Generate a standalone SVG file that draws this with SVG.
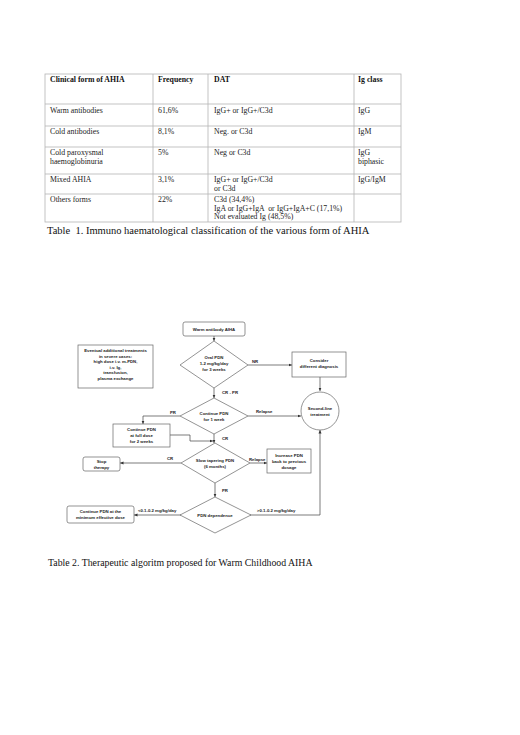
<svg xmlns="http://www.w3.org/2000/svg" width="520" height="735" viewBox="0 0 520 735">
<defs>
<marker id="ah" markerWidth="4" markerHeight="4" refX="3.5" refY="2" orient="auto" markerUnits="userSpaceOnUse">
<path d="M0,0.5 L3.5,2 L0,3.5 z" fill="#333"/>
</marker>
<style>
.tl{stroke:#b4b4b4;stroke-width:0.8;fill:none}
.tt{font-family:"Liberation Serif","Times New Roman",serif;font-size:7.8px;fill:#222}
.th{font-family:"Liberation Serif","Times New Roman",serif;font-size:7.8px;font-weight:bold;fill:#111}
.cap{font-family:"Liberation Serif","Times New Roman",serif;fill:#111;white-space:pre}
.bx{fill:#fff;stroke:#666;stroke-width:0.7}
.ft{font-family:"Liberation Sans",Arial,sans-serif;font-size:4.3px;font-weight:bold;fill:#222;text-anchor:middle}
.lb{font-family:"Liberation Sans",Arial,sans-serif;font-size:4.3px;font-weight:bold;fill:#222}
.cn{stroke:#444;stroke-width:0.7;fill:none}
</style>
</defs>
<rect width="520" height="735" fill="#fff"/>

<g id="table1">
<rect class="tl" x="45" y="74" width="356" height="148"/>
<line class="tl" x1="45" y1="104" x2="401" y2="104"/>
<line class="tl" x1="45" y1="126" x2="401" y2="126"/>
<line class="tl" x1="45" y1="147" x2="401" y2="147"/>
<line class="tl" x1="45" y1="174" x2="401" y2="174"/>
<line class="tl" x1="45" y1="194" x2="401" y2="194"/>
<line class="tl" x1="153" y1="74" x2="153" y2="222"/>
<line class="tl" x1="208" y1="74" x2="208" y2="222"/>
<line class="tl" x1="354" y1="74" x2="354" y2="222"/>
<text class="th" x="50" y="82">Clinical form of AHIA</text>
<text class="th" x="158" y="82">Frequency</text>
<text class="th" x="214" y="82">DAT</text>
<text class="th" x="358" y="82">Ig class</text>
<text class="tt" x="50" y="113">Warm antibodies</text>
<text class="tt" x="158" y="113">61,6%</text>
<text class="tt" x="214" y="113">IgG+ or IgG+/C3d</text>
<text class="tt" x="358" y="113">IgG</text>
<text class="tt" x="50" y="134">Cold antibodies</text>
<text class="tt" x="158" y="134">8,1%</text>
<text class="tt" x="214" y="134">Neg. or C3d</text>
<text class="tt" x="358" y="134">IgM</text>
<text class="tt" x="50" y="155">Cold paroxysmal</text>
<text class="tt" x="50" y="164">haemoglobinuria</text>
<text class="tt" x="158" y="155">5%</text>
<text class="tt" x="214" y="155">Neg or C3d</text>
<text class="tt" x="358" y="155">IgG</text>
<text class="tt" x="358" y="164">biphasic</text>
<text class="tt" x="50" y="182">Mixed AHIA</text>
<text class="tt" x="158" y="182">3,1%</text>
<text class="tt" x="214" y="182">IgG+ or IgG+/C3d</text>
<text class="tt" x="214" y="190.5">or C3d</text>
<text class="tt" x="358" y="182">IgG/IgM</text>
<text class="tt" x="50" y="202">Others forms</text>
<text class="tt" x="158" y="202">22%</text>
<text class="tt" x="214" y="202">C3d (34,4%)</text>
<text class="tt" x="214" y="210.5" style="white-space:pre">IgA or IgG+IgA  or IgG+IgA+C (17,1%)</text>
<text class="tt" x="214" y="219">Not evaluated Ig (48,5%)</text>
</g>
<text class="cap" x="47" y="234" font-size="10.5">Table  1. Immuno haematological classification of the various form of AHIA</text>

<g id="connectors">
<line class="cn" x1="214" y1="336" x2="214" y2="341" marker-end="url(#ah)"/>
<line class="cn" x1="248" y1="365" x2="292" y2="365" marker-end="url(#ah)"/>
<line class="cn" x1="320" y1="377" x2="320" y2="391" marker-end="url(#ah)"/>
<line class="cn" x1="214" y1="388" x2="214" y2="398" marker-end="url(#ah)"/>
<polyline class="cn" points="180,416 143,416 143,424" marker-end="url(#ah)"/>
<line class="cn" x1="248" y1="416" x2="301" y2="416" marker-end="url(#ah)"/>
<polyline class="cn" points="170,435 190,435 190,441 213,441" marker-end="url(#ah)"/>
<line class="cn" x1="214" y1="434" x2="214" y2="443" marker-end="url(#ah)"/>
<line class="cn" x1="181" y1="463" x2="120" y2="463" marker-end="url(#ah)"/>
<line class="cn" x1="250" y1="463" x2="267" y2="463" marker-end="url(#ah)"/>
<line class="cn" x1="215" y1="483" x2="215" y2="497" marker-end="url(#ah)"/>
<line class="cn" x1="181" y1="515" x2="134" y2="515" marker-end="url(#ah)"/>
<polyline class="cn" points="250,515 320,515 320,430" marker-end="url(#ah)"/>
</g>

<g id="labels">
<text class="lb" x="252" y="363">NR</text>
<text class="lb" x="222" y="394">CR - PR</text>
<text class="lb" x="170" y="414">PR</text>
<text class="lb" x="256" y="413">Relapse</text>
<text class="lb" x="222" y="440">CR</text>
<text class="lb" x="167" y="460">CR</text>
<text class="lb" x="249" y="461">Relapse</text>
<text class="lb" x="222" y="492">PR</text>
<text class="lb" x="138" y="512">&lt;0.1-0.2 mg/kg/day</text>
<text class="lb" x="257" y="512">&gt;0.1-0.2 mg/kg/day</text>
</g>

<g id="n-warm">
<rect class="bx" x="183" y="322" width="62" height="14" rx="2"/>
<text class="ft" x="214" y="330.5">Warm antibody AIHA</text>
</g>
<g id="n-eventual">
<rect class="bx" x="78" y="345" width="75" height="43"/>
<text class="ft" x="115.5" y="352">Eventual additional treatments</text>
<text class="ft" x="115.5" y="357.5">in severe cases:</text>
<text class="ft" x="115.5" y="363">high dose i.v. m-PDN,</text>
<text class="ft" x="115.5" y="368.5">i.v. Ig,</text>
<text class="ft" x="115.5" y="374">transfusion,</text>
<text class="ft" x="115.5" y="379.5">plasma exchange</text>
</g>
<g id="n-oral">
<polygon class="bx" points="214,341 248,365 214,388 180,365"/>
<text class="ft" x="214" y="359">Oral PDN</text>
<text class="ft" x="214" y="365">1-2 mg/kg/day</text>
<text class="ft" x="214" y="371">for 3 weeks</text>
</g>
<g id="n-consider">
<rect class="bx" x="292" y="352" width="54" height="25"/>
<text class="ft" x="319" y="362">Consider</text>
<text class="ft" x="319" y="368">different diagnosis</text>
</g>
<g id="n-second">
<circle class="bx" cx="320" cy="411" r="19"/>
<text class="ft" x="320" y="410">Second-line</text>
<text class="ft" x="320" y="416">treatment</text>
</g>
<g id="n-cont1w">
<polygon class="bx" points="214,398 248,416 214,434 180,416"/>
<text class="ft" x="214" y="415">Continue PDN</text>
<text class="ft" x="214" y="421">for 1 week</text>
</g>
<g id="n-fulldose">
<rect class="bx" x="113" y="424" width="57" height="23"/>
<text class="ft" x="141.5" y="431">Continue PDN</text>
<text class="ft" x="141.5" y="437">at full dose</text>
<text class="ft" x="141.5" y="443">for 2 weeks</text>
</g>
<g id="n-slow">
<polygon class="bx" points="215,443 250,463 215,483 181,463"/>
<text class="ft" x="215" y="462">Slow tapering PDN</text>
<text class="ft" x="215" y="468">(6 months)</text>
</g>
<g id="n-stop">
<rect class="bx" x="83" y="457" width="37" height="14" rx="2"/>
<text class="ft" x="101.5" y="463">Stop</text>
<text class="ft" x="101.5" y="469">therapy</text>
</g>
<g id="n-increase">
<rect class="bx" x="267" y="449" width="44" height="24"/>
<text class="ft" x="289" y="457">Increase PDN</text>
<text class="ft" x="289" y="463">back to previous</text>
<text class="ft" x="289" y="469">dosage</text>
</g>
<g id="n-dependence">
<polygon class="bx" points="215,497 251,515 215,533 180,515"/>
<text class="ft" x="215" y="517">PDN dependence</text>
</g>
<g id="n-minimum">
<rect class="bx" x="67" y="506" width="67" height="17" rx="2"/>
<text class="ft" x="100.5" y="513">Continue PDN at the</text>
<text class="ft" x="100.5" y="519">minimum effective dose</text>
</g>
<text class="cap" x="48" y="566" font-size="9.8">Table 2. Therapeutic algoritm proposed for Warm Childhood AIHA</text>
</svg>
